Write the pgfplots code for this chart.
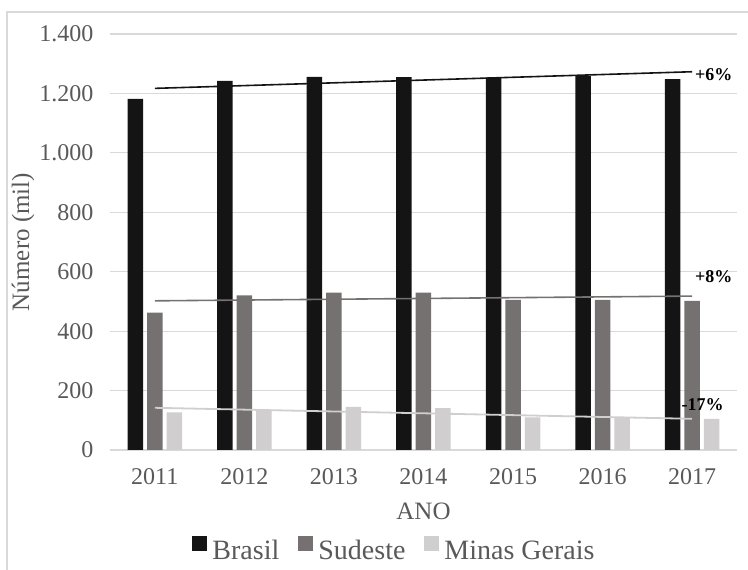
\documentclass[border=0pt]{standalone}
\usepackage{pgfplots}
\pgfplotsset{compat=1.18}
\usepackage{fontspec}
\setmainfont{Liberation Serif}
\definecolor{cBr}{HTML}{141414}
\definecolor{cSu}{HTML}{767171}
\definecolor{cMg}{HTML}{D0CECE}
\definecolor{cgrid}{HTML}{D9D9D9}
\definecolor{ctick}{HTML}{595959}
\begin{document}
\begin{tikzpicture}
\path[use as bounding box] (-110pt,-120pt) rectangle (638pt,450pt);
\draw[cgrid, line width=1.2pt] (-103pt,-125pt) -- (-103pt,438pt) -- (645pt,438pt);
\begin{axis}[
  scale only axis, width=627pt, height=416pt,
  xmin=-0.5, xmax=6.5, ymin=0, ymax=1400,
  xtick={0,1,2,3,4,5,6}, xticklabels={2011,2012,2013,2014,2015,2016,2017},
  ytick={0,200,400,600,800,1000,1200,1400},
  ymajorgrids, grid style={cgrid, line width=1.2pt},
  axis line style={draw=none},
  major tick length=0pt,
  /pgf/number format/1000 sep={.},
  /pgf/number format/assume math mode=true,
  tick label style={font=\fontsize{24}{28}\selectfont, text=ctick},
  xticklabel style={yshift=-15pt},
  yticklabel style={xshift=-13pt},
  xlabel={ANO}, ylabel={Número (mil)},
  label style={font=\fontsize{25}{30}\selectfont, text=ctick},
  xlabel style={at={(axis description cs:0.5,-0.1466)}, anchor=center},
  ylabel style={at={(axis description cs:-0.1388,0.5)}, anchor=center},
  legend columns=-1,
  legend style={at={(axis description cs:0.453,-0.238)}, anchor=center, draw=none, fill=none,
    font=\fontsize{28}{32}\selectfont, text=ctick,
    nodes={inner sep=1pt},
    /tikz/every odd column/.append style={column sep=4pt},
    /tikz/every even column/.append style={column sep=18pt}},
  clip=false,
]
\addplot[ybar, bar width=15.5pt, bar shift=-19.5pt, fill=cBr, draw=none,
  legend image code/.code={\fill[cBr] (0pt,0pt) rectangle (15pt,15pt);}]
  coordinates {(0,1182) (1,1242) (2,1256) (3,1255) (4,1254) (5,1259) (6,1248)};
\addlegendentry{Brasil}
\addplot[ybar, bar width=15.5pt, bar shift=0pt, fill=cSu, draw=none,
  legend image code/.code={\fill[cSu] (0pt,0pt) rectangle (15pt,15pt);}]
  coordinates {(0,462) (1,520) (2,530) (3,530) (4,505) (5,505) (6,502)};
\addlegendentry{Sudeste}
\addplot[ybar, bar width=15.5pt, bar shift=19.5pt, fill=cMg, draw=none,
  legend image code/.code={\fill[cMg] (0pt,0pt) rectangle (15pt,15pt);}]
  coordinates {(0,127) (1,135) (2,145) (3,141) (4,110) (5,111) (6,105)};
\addlegendentry{Minas Gerais}
\addplot[sharp plot, forget plot, cBr, line width=1.6pt] coordinates {(0,1217) (6,1273)};
\addplot[sharp plot, forget plot, cSu, line width=1.6pt] coordinates {(0,502) (6,518)};
\addplot[sharp plot, forget plot, cMg, line width=1.8pt] coordinates {(0,142) (6,105)};
\node[anchor=west, inner sep=0pt, font=\bfseries\fontsize{18}{20}\selectfont] at (axis cs:6.03,1262) {+6\%};
\node[anchor=west, inner sep=0pt, font=\bfseries\fontsize{18}{20}\selectfont] at (axis cs:6.03,583) {+8\%};
\node[anchor=west, inner sep=0pt, font=\bfseries\fontsize{18}{20}\selectfont] at (axis cs:5.88,151) {-17\%};
\end{axis}
\end{tikzpicture}
\end{document}
